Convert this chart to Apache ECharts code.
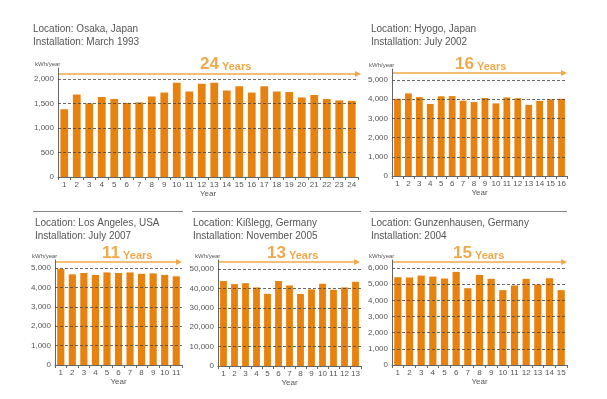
<!DOCTYPE html>
<html>
<head>
<meta charset="utf-8">
<script src="https://cdn.jsdelivr.net/npm/echarts@6/dist/echarts.min.js"></script>
<style>
  html, body { margin: 0; padding: 0; background: #fff; }
  #main { width: 607px; height: 399px; }
</style>
</head>
<body>
<div id="main"></div>
<script>
// yearly output, kWh/year
var osakaYears = ['1','2','3','4','5','6','7','8','9','10','11','12','13','14','15','16','17','18','19','20','21','22','23','24'];
var osakaValues = [1380,1680,1500,1630,1590,1510,1520,1640,1720,1920,1740,1900,1920,1760,1850,1720,1850,1740,1730,1620,1670,1590,1560,1550];
var osakaTicks = [0,500,1000,1500,2000];

var hyogoYears = ['1','2','3','4','5','6','7','8','9','10','11','12','13','14','15','16'];
var hyogoValues = [4020,4300,4110,3750,4150,4160,3920,3850,4060,3780,4090,4050,3700,3910,3990,4020];
var hyogoTicks = [0,1000,2000,3000,4000,5000];

var laYears = ['1','2','3','4','5','6','7','8','9','10','11'];
var laValues = [4950,4670,4740,4640,4770,4740,4770,4700,4720,4640,4570];
var laTicks = [0,1000,2000,3000,4000,5000];

var kisYears = ['1','2','3','4','5','6','7','8','9','10','11','12','13'];
var kisValues = [43800,42200,42700,40500,37200,43800,41500,37100,39500,42400,39300,40500,43400];
var kisTicks = [0,10000,20000,30000,40000,50000];

var gunYears = ['1','2','3','4','5','6','7','8','9','10','11','12','13','14','15'];
var gunValues = [5430,5410,5530,5470,5350,5760,4750,5570,5330,4630,4920,5330,4980,5370,4630];
var gunTicks = [0,1000,2000,3000,4000,5000,6000];

var FONT = 'Liberation Sans, Arial, sans-serif';
var BAR = '#e8820e';
var ARROW = '#f0a94a';

/* panel layout: grid box + text positions */
var panels = [
  { loc: 'Location: Osaka, Japan', inst: 'Installation: March 1993', span: '24',
    years: osakaYears, values: osakaValues, ticks: osakaTicks, max: 2220,
    x0: 58, x1: 358, top: 68, y0: 177, tx: 33, ty: 23, arrowY: 74, arrowEnd: 361, spanX: 200, spanY: 56 },
  { loc: 'Location: Hyogo, Japan', inst: 'Installation: July 2002', span: '16',
    years: hyogoYears, values: hyogoValues, ticks: hyogoTicks, max: 5570,
    x0: 392, x1: 567, top: 69, y0: 176, tx: 371, ty: 23, arrowY: 73, arrowEnd: 567, spanX: 455, spanY: 56 },
  { loc: 'Location: Los Angeles, USA', inst: 'Installation: July 2007', span: '11',
    years: laYears, values: laValues, ticks: laTicks, max: 5410,
    x0: 55, x1: 182, top: 260, y0: 365, tx: 35, ty: 217, arrowY: 262, arrowEnd: 182, spanX: 102, spanY: 245, rule: [33, 183] },
  { loc: 'Location: Kißlegg, Germany', inst: 'Installation: November 2005', span: '13',
    years: kisYears, values: kisValues, ticks: kisTicks, max: 54640,
    x0: 218, x1: 361, top: 260, y0: 366, tx: 193, ty: 217, arrowY: 262, arrowEnd: 360, spanX: 267, spanY: 245, rule: [192, 361] },
  { loc: 'Location: Gunzenhausen, Germany', inst: 'Installation: 2004', span: '15',
    years: gunYears, values: gunValues, ticks: gunTicks, max: 6495,
    x0: 392, x1: 567, top: 260, y0: 365, tx: 371, ty: 217, arrowY: 262, arrowEnd: 567, spanX: 453, spanY: 245, rule: [370, 567] }
];

function fmt(v){
  return v.toLocaleString('en-US');
}

var grids = [], xAxes = [], yAxes = [], series = [], titles = [], graphics = [];

panels.forEach(function(p, i){
  var step = p.ticks[1];
  grids.push({ left: p.x0, width: p.x1 - p.x0, top: p.top, height: p.y0 - p.top, containLabel: false });

  xAxes.push({
    type: 'category', gridIndex: i, data: p.years,
    name: 'Year', nameLocation: 'middle', nameGap: 12,
    nameTextStyle: { color: '#555', fontSize: 8, fontFamily: FONT },
    axisLine: { lineStyle: { color: '#666', width: 1 } },
    axisTick: { show: true, length: 3, lineStyle: { color: '#666' } },
    axisLabel: { color: '#555', fontSize: 8, margin: 4, interval: 0, fontFamily: FONT }
  });

  yAxes.push({
    type: 'value', gridIndex: i, min: 0, max: p.max, interval: step,
    axisLine: { show: true, lineStyle: { color: '#666', width: 1 } },
    axisTick: { show: false },
    splitLine: { show: false },
    axisLabel: {
      color: '#555', fontSize: 8, margin: 4, fontFamily: FONT,
      formatter: function(v){ return v % step === 0 ? fmt(v) : ''; }
    }
  });

  series.push({
    type: 'bar', xAxisIndex: i, yAxisIndex: i, data: p.values,
    barWidth: '62%', itemStyle: { color: BAR },
    markLine: {
      silent: true, symbol: 'none', label: { show: false },
      lineStyle: { color: '#444', type: [3, 2], width: 0.8 },
      data: p.ticks.filter(function(t){ return t > 0; }).map(function(t){ return { yAxis: t }; })
    }
  });

  titles.push({
    text: p.loc + '\n' + p.inst, left: p.tx, top: p.ty, padding: 0,
    textStyle: { color: '#555', fontSize: 10, fontWeight: 'normal', lineHeight: 13, fontFamily: FONT }
  });
  titles.push({
    text: 'kWh/year', left: p.x0 - 23, top: p.top - 7, padding: 0,
    textStyle: { color: '#555', fontSize: 6, fontWeight: 'normal', fontFamily: FONT }
  });
  titles.push({
    text: '{n|' + p.span + '}{y| Years}', left: p.spanX, top: p.spanY, padding: 0,
    textStyle: {
      rich: {
        n: { color: ARROW, fontSize: 17, fontWeight: 'bold', fontFamily: FONT },
        y: { color: ARROW, fontSize: 11, fontWeight: 'bold', fontFamily: FONT, padding: [4, 0, 0, 0] }
      }
    }
  });

  // span arrow
  graphics.push({
    type: 'line', shape: { x1: p.x0, y1: p.arrowY, x2: p.arrowEnd - 4, y2: p.arrowY },
    style: { stroke: ARROW, lineWidth: 1.5 }
  });
  graphics.push({
    type: 'polygon',
    shape: { points: [[p.arrowEnd - 6, p.arrowY - 3], [p.arrowEnd, p.arrowY], [p.arrowEnd - 6, p.arrowY + 3]] },
    style: { fill: ARROW }
  });
  if (p.rule) {
    graphics.push({
      type: 'line', shape: { x1: p.rule[0], y1: 211.5, x2: p.rule[1], y2: 211.5 },
      style: { stroke: '#888', lineWidth: 1 }
    });
  }
});

var chart = echarts.init(document.getElementById('main'), null, { renderer: 'canvas' });
chart.setOption({
  backgroundColor: '#fff',
  animation: false,
  title: titles,
  grid: grids,
  xAxis: xAxes,
  yAxis: yAxes,
  series: series,
  graphic: graphics
});
</script>
</body>
</html>
